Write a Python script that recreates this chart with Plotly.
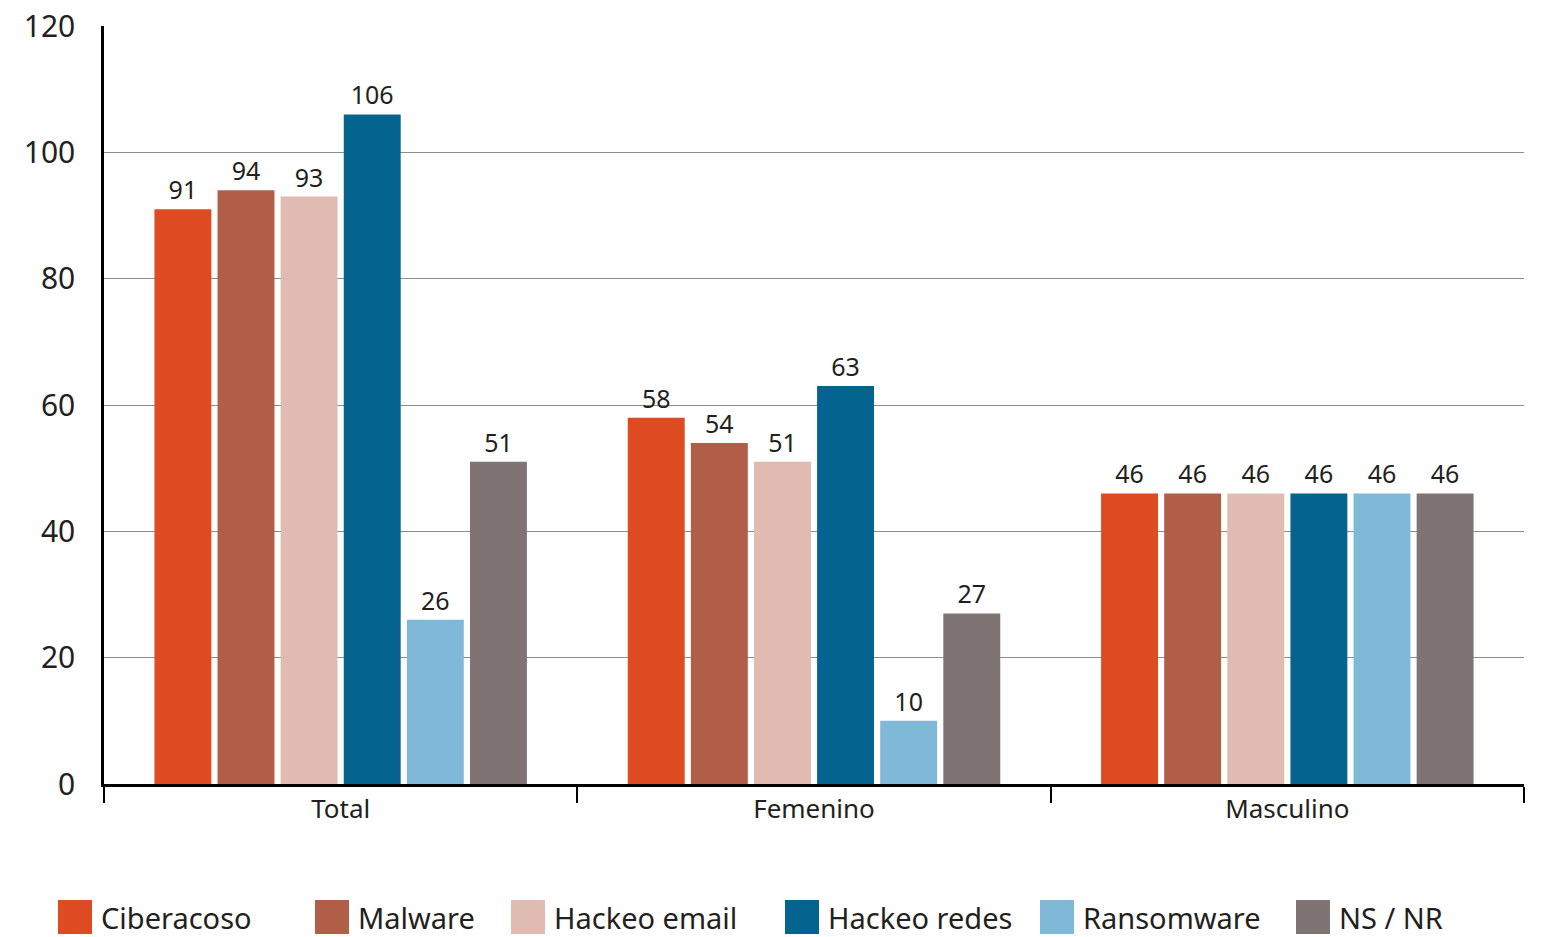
import plotly.graph_objects as go

# Data
categories = ["Total", "Femenino", "Masculino"]
series_names = ["Ciberacoso", "Malware", "Hackeo email", "Hackeo redes", "Ransomware", "NS / NR"]
ciberacoso = [91, 58, 46]
malware = [94, 54, 46]
hackeo_email = [93, 51, 46]
hackeo_redes = [106, 63, 46]
ransomware = [26, 10, 46]
ns_nr = [51, 27, 46]
y_ticks = [0, 20, 40, 60, 80, 100, 120]

series_values = [ciberacoso, malware, hackeo_email, hackeo_redes, ransomware, ns_nr]
colors = ["#DE4A21", "#B15E48", "#DFBBB1", "#05638F", "#80B8D7", "#7F7374"]

FONT = "Noto Sans"
W, H = 1542, 937
ML, MR, MT, MB = 104, 18, 26, 153

fig = go.Figure()
for name, vals, col in zip(series_names, series_values, colors):
    fig.add_trace(go.Bar(
        x=categories, y=vals, name=name,
        marker=dict(color=col, line=dict(width=0)),
        text=vals, texttemplate="%{y}", textposition="outside",
        textfont=dict(family=FONT, size=25, color="#231F20"),
        cliponaxis=False, showlegend=False,
    ))

fig.update_layout(
    width=W, height=H,
    margin=dict(l=ML, r=MR, t=MT, b=MB),
    paper_bgcolor="white", plot_bgcolor="white",
    barmode="group", bargap=0.2, bargroupgap=0.098,
    font=dict(family=FONT, color="#231F20"),
    xaxis=dict(
        automargin=False,
        showline=True, linecolor="#000000", linewidth=2.5,
        ticks="outside", tickson="boundaries", ticklen=16, tickwidth=2, tickcolor="#000000",
        tickfont=dict(family=FONT, size=26, color="#231F20"),
        showgrid=False,
    ),
    yaxis=dict(
        automargin=False,
        range=[0, 120], tickvals=y_ticks,
        showline=True, linecolor="#000000", linewidth=2.5,
        showgrid=True, gridcolor="#8C8C8C", gridwidth=1.2,
        ticks="outside", ticklen=20, tickcolor="rgba(0,0,0,0)",
        tickfont=dict(family=FONT, size=30, color="#231F20"),
        zeroline=False,
    ),
)

# Legend row below the plot: colour swatches with series names
legend_x = [58, 315, 511, 785, 1040, 1296]
sw = 34
sy0, sy1 = 900, 934
for name, col, lx in zip(series_names, colors, legend_x):
    fig.add_shape(
        type="rect", xref="paper", yref="paper",
        x0=(lx - ML) / (W - ML - MR), x1=(lx + sw - ML) / (W - ML - MR),
        y0=(H - MB - sy1) / (H - MT - MB), y1=(H - MB - sy0) / (H - MT - MB),
        fillcolor=col, line=dict(width=0),
    )
    fig.add_annotation(
        xref="paper", yref="paper",
        x=(lx + sw + 7 - ML) / (W - ML - MR), y=(H - MB - (sy0 + sy1) / 2) / (H - MT - MB),
        xanchor="left", yanchor="middle", text=name, showarrow=False,
        font=dict(family=FONT, size=29, color="#231F20"),
    )

fig.write_html("out.html")
